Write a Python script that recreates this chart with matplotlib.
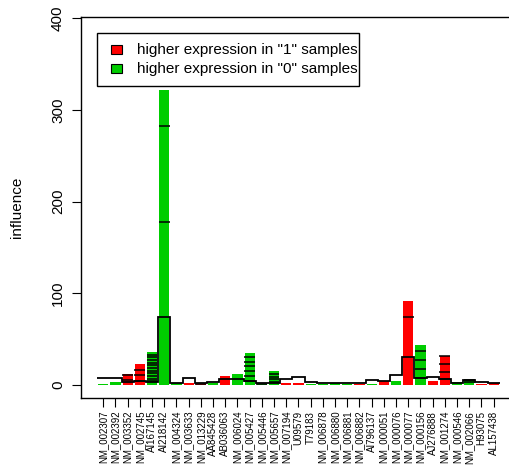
import matplotlib
matplotlib.use("Agg")
import matplotlib.pyplot as plt
from matplotlib.patches import Rectangle

plt.rcParams['font.family'] = ['Liberation Sans', 'DejaVu Sans']

# genes on the x axis
genes = ["NM_002307", "NM_002392", "NM_003352", "NM_002745", "AI167145",
         "AI218142", "NM_004324", "NM_003633", "NM_013229", "AA845428",
         "AB036063", "NM_006024", "NM_005427", "NM_005446", "NM_005657",
         "NM_007194", "U09579", "T79183", "NM_006878", "NM_006880",
         "NM_006881", "NM_006882", "AI796137", "NM_000051", "NM_000076",
         "NM_000077", "NM_000156", "AJ276888", "NM_001274", "NM_000546",
         "NM_002066", "H93075", "AL157438"]

# total influence of each gene (bar height)
influence = [0.6, 3.3, 12.4, 23.3, 35.6, 322.0, 2.0, 2.0, 1.5, 2.5,
             9.8, 12.4, 34.9, 1.5, 15.0, 2.2, 2.5, 1.5, 1.5, 2.0,
             0.6, 1.5, 0.8, 4.0, 4.5, 91.6, 43.6, 4.4, 32.0, 3.0,
             6.5, 0.6, 2.0]

# which group has higher expression: "1" -> red, "0" -> green
group = ["0", "0", "1", "1", "0", "0", "0", "1", "1", "0",
         "1", "0", "0", "0", "0", "1", "1", "0", "0", "0",
         "0", "1", "0", "1", "0", "1", "0", "1", "1", "0",
         "0", "1", "1"]

# black outline (reference influence level)
reference = [8.0, 8.0, 3.0, 4.5, 3.0, 73.8, 2.5, 7.3, 1.8, 2.9,
             6.9, 6.9, 4.4, 1.8, 2.5, 6.9, 9.1, 3.6, 2.5, 2.5,
             2.5, 1.8, 5.8, 4.4, 10.5, 30.9, 7.3, 8.4, 6.5, 1.8,
             5.8, 3.6, 2.2]

# cumulative boundaries between stacked pieces inside each bar
pieces = [[], [], [10.5, 5.0], [16.7, 10.9, 4.7],
          [33.1, 30.2, 27.3, 24.4, 21.5, 18.5, 15.6, 12.7, 9.8, 6.9, 4.0],
          [282.4, 178.1], [], [], [0.8], [],
          [], [], [30.9, 25.4, 20.7, 15.6, 9.8, 4.7], [0.7],
          [12.0, 9.1, 6.2, 3.6],
          [], [], [], [], [], [], [], [], [], [],
          [74.5], [37.0, 27.3, 17.4, 7.3], [], [31.5, 23.3, 14.5, 6.5], [],
          [6.0, 3.5], [], []]

colours = {"1": "#FF0000", "0": "#00CD00"}
W, H = 510, 465

fig = plt.figure(figsize=(W / 100, H / 100), dpi=100)
ax = fig.add_axes([80.7 / W, 1 - 398.3 / H, 434.3 / W, 381.3 / H])

x = list(range(len(genes)))
ax.bar(x, influence, width=0.83, color=[colours[g] for g in group],
       linewidth=0, zorder=2)
for i, seps in enumerate(pieces):
    if seps:
        ax.hlines(seps, i - 0.45, i + 0.43, color="black", lw=1.1, zorder=3)

edges = [i - 0.5 for i in range(len(genes) + 1)]
ax.stairs(reference, edges, baseline=None, color="black", lw=1.3, zorder=4)

ax.set_xlim(-1.852, 33.75)
ax.set_ylim(-14.5, 401.3)
ax.set_xticks(x)
ax.set_xticklabels(genes, rotation=90, fontsize=7)
ax.set_yticks([0, 100, 200, 300, 400])
ax.tick_params(axis='y', labelrotation=90, labelsize=11, length=6.5, pad=4.8)
ax.tick_params(axis='x', length=6.5, pad=2.5)
for lab in ax.get_yticklabels():
    lab.set_verticalalignment('center')
ax.spines['right'].set_visible(False)
for s in ['left', 'bottom', 'top']:
    ax.spines[s].set_linewidth(1.0)

ax.set_ylabel("influence", fontsize=11)
ax.yaxis.set_label_coords(-0.1306, 0.5)

# legend box drawn in pixel positions of the figure
def px(xp, yp):
    return xp / W, 1 - yp / H

bx, by = px(97.3, 86)
fig.patches.append(Rectangle((bx, by), (359 - 97.3) / W, (86 - 33.3) / H,
                             transform=fig.transFigure, fill=False,
                             edgecolor="black", lw=1.0))
labels = ['higher expression in "1" samples', 'higher expression in "0" samples']
for k, (key, text) in enumerate(zip(["1", "0"], labels)):
    yc = 50 + 18.5 * k
    sx, sy = px(110.7, yc + 4.5)
    fig.patches.append(Rectangle((sx, sy), 11 / W, 9 / H,
                                 transform=fig.transFigure,
                                 facecolor=colours[key], edgecolor="black",
                                 lw=0.8))
    tx, ty = px(136.7, yc)
    fig.text(tx, ty, text, fontsize=11, ha='left', va='center')

fig.savefig("out.png", dpi=100)
